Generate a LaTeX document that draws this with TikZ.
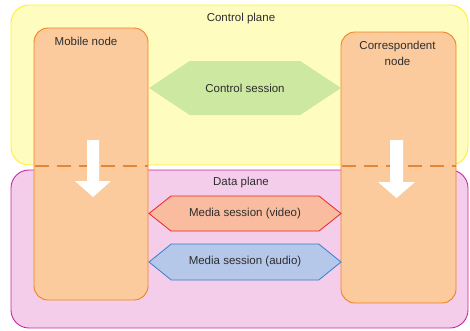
\documentclass[tikz,border=0pt]{standalone}
\usepackage{fontspec}
\setmainfont{Liberation Sans}
\usetikzlibrary{positioning,shapes.symbols}
\definecolor{ctrlfill}{RGB}{255,252,192}
\definecolor{ctrlline}{RGB}{255,240,40}
\definecolor{datafill}{RGB}{243,205,234}
\definecolor{dataline}{RGB}{200,40,160}
\definecolor{nodefill}{RGB}{251,203,158}
\definecolor{nodeline}{RGB}{245,130,32}
\definecolor{sessgreen}{RGB}{204,232,161}
\definecolor{videofill}{RGB}{249,188,159}
\definecolor{videoline}{RGB}{236,36,40}
\definecolor{audiofill}{RGB}{181,200,233}
\definecolor{audioline}{RGB}{59,125,207}
\definecolor{textgray}{RGB}{45,45,45}

\begin{document}
\begin{tikzpicture}[x=1pt,y=-1pt,
        plane/.style={rounded corners=18pt,line width=0.9pt,minimum width=457pt},
        endpoint/.style={draw=nodeline,line width=0.9pt,fill=nodefill,rounded corners=14pt,minimum width=114pt,minimum height=272pt},
        session/.style={signal,signal to=east and west,minimum width=192pt,inner sep=0pt},
        every node/.style={font=\fontsize{11.5}{16}\selectfont,text=textgray,align=center}
      ]
        \useasboundingbox (0,0) rectangle (470,330);
        % the two planes
        \node[plane,draw=ctrlline,fill=ctrlfill,minimum height=160pt] (cp) at (239.5,85) {};
        \node[plane,draw=dataline,fill=datafill,minimum height=158pt] (dp) at (239.5,249) {};
        \node (cplbl) at (241,19) {Control plane};
        \node (dplbl) at (241,183) {Data plane};

        % end points
        \node[endpoint] (mn) at (91,164) {};
        \node[endpoint,minimum width=115pt,minimum height=271pt] (cn) at (398.5,167.5) {};
        \node[below=6pt of mn.north,xshift=-5pt] (mnlbl) {Mobile node};
        \node[below=6pt of cn.north,xshift=-1pt] (cnlbl) {Correspondent\\node};

        % plane border across the end points
        \foreach \n in {mn,cn}{
          \draw[nodeline!90!black,opacity=0.8,line width=1.3pt,dash pattern=on 14pt off 8pt,dash phase=-1pt] (\n.west |- 0,166) -- (\n.east |- 0,166);
        }

        % white handover arrows
        \fill[white] (87,140) -- (99,140) -- (99,181) -- (111,181) -- (93,197) -- (75,181) -- (87,181) -- cycle;
        \fill[white] (390,140) -- (403,140) -- (403,182) -- (415,182) -- (396.5,198) -- (378,182) -- (390,182) -- cycle;

        % sessions between the end points
        \node[session,fill=sessgreen,minimum height=54pt,signal pointer angle=67] (ctrl) at (245,88) {Control session};
        \node[session,draw=videoline,fill=videofill,line width=0.8pt,minimum height=35pt,signal pointer angle=77] (video) at (245,213.5) {Media session (video)};
        \node[session,draw=audioline,fill=audiofill,line width=0.8pt,minimum height=36pt,signal pointer angle=78] (audio) at (245,262) {Media session (audio)};
      \end{tikzpicture}
\end{document}
